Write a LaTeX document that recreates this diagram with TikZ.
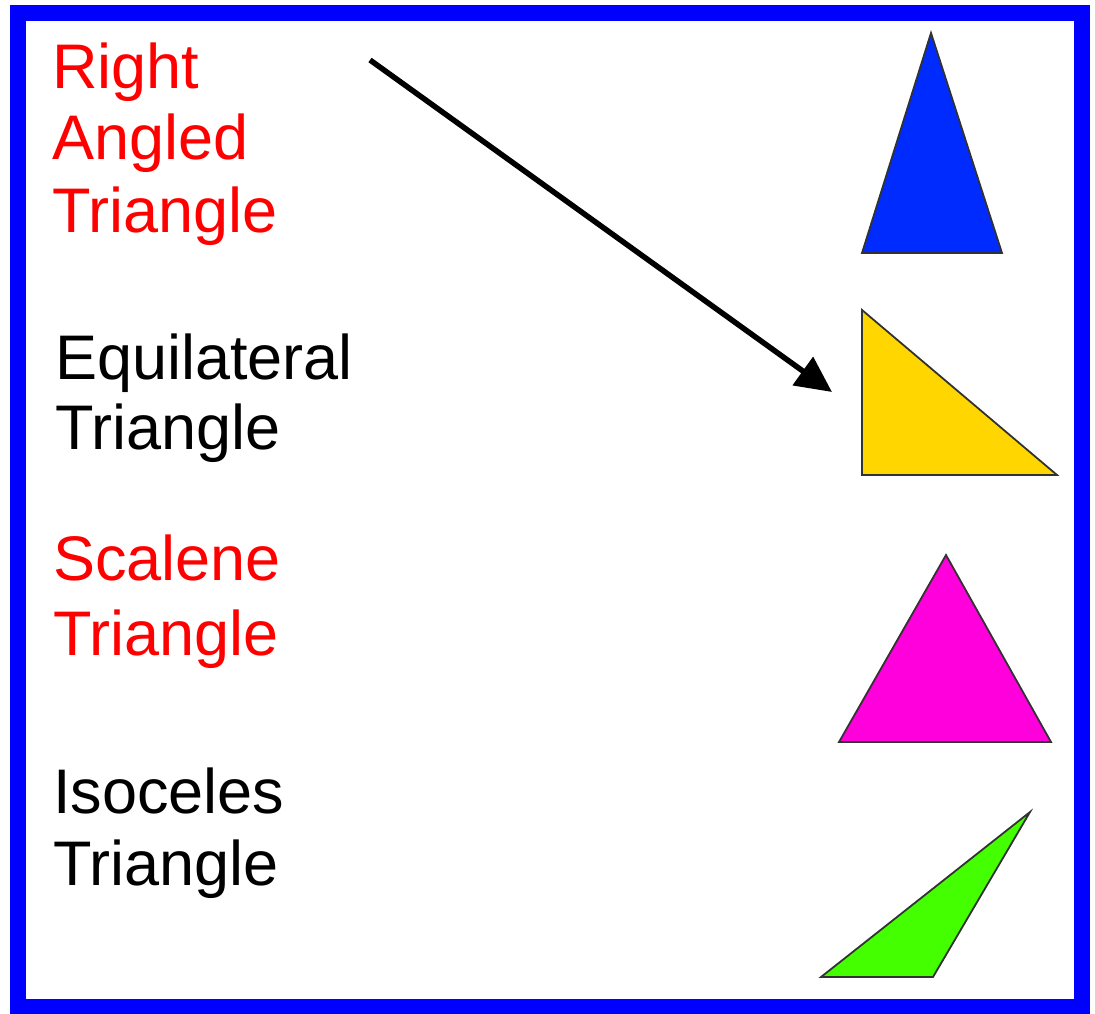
\documentclass[tikz,border=0pt]{standalone}
\usepackage{fontspec}
\setmainfont{Liberation Sans}
\usetikzlibrary{arrows.meta}
\definecolor{frameblue}{RGB}{0,0,255}
\definecolor{triblue}{RGB}{0,43,255}
\definecolor{triyellow}{RGB}{255,214,0}
\definecolor{trimagenta}{RGB}{255,0,221}
\definecolor{trigreen}{RGB}{68,255,0}
\definecolor{triedge}{RGB}{50,50,50}
\tikzset{
  lbl/.style={anchor=base west,inner sep=0pt,outer sep=0pt,
    font=\fontsize{63}{71}\selectfont},
  redlbl/.style={lbl,text={rgb,255:red,255;green,0;blue,0}},
  blacklbl/.style={lbl,text=black},
  tri/.style={draw=triedge,line width=1.8pt,line join=miter},
  pointer/.style={line width=5.5pt,-{Triangle[length=36pt,width=34pt]}}
}
\begin{document}
\begin{tikzpicture}[x=1pt,y=-1pt]
\useasboundingbox (0,0) rectangle (1095,1014);
% frame
\draw[frameblue,line width=16pt] (18,13) rectangle (1082,1007);
% labels
\node[redlbl] (r1) at (52,89) {Right};
\node[redlbl] (r2) at (52,160) {Angled};
\node[redlbl] (r3) at (52,232) {Triangle};
\node[blacklbl] (e1) at (55,379) {Equilateral};
\node[blacklbl] (e2) at (55,449) {Triangle};
\node[redlbl] (s1) at (53,580) {Scalene};
\node[redlbl] (s2) at (53,655) {Triangle};
\node[blacklbl] (i1) at (53,813) {Isoceles};
\node[blacklbl] (i2) at (53,885) {Triangle};
% triangles
\draw[tri,fill=triblue] (931,33) -- (862,253) -- (1002,253) -- cycle;
\draw[tri,fill=triyellow] (862,310) -- (862,475) -- (1057,475) -- cycle;
\draw[tri,fill=trimagenta] (946,555) -- (839,742) -- (1051,742) -- cycle;
\draw[tri,fill=trigreen] (821,977) -- (933,977) -- (1030,812) -- cycle;
% arrow
\coordinate (astart) at (370,60);
\coordinate (aend) at (832,392);
\draw[pointer] (astart) -- (aend);
\end{tikzpicture}
\end{document}
